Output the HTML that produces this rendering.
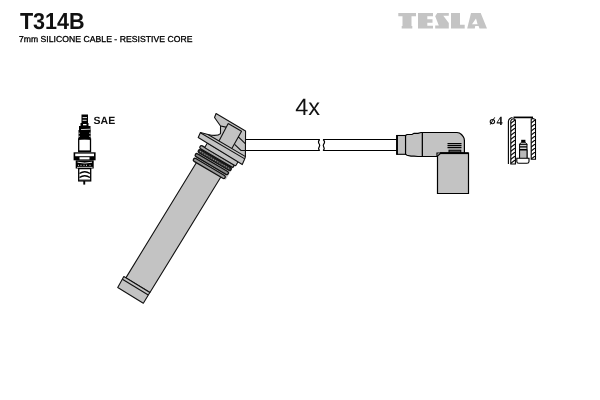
<!DOCTYPE html>
<html><head><meta charset="utf-8">
<style>
html,body{margin:0;padding:0;background:#fff;width:600px;height:400px;overflow:hidden}
svg{position:absolute;left:0;top:0;will-change:transform}
text{font-family:"Liberation Sans",sans-serif;text-rendering:geometricPrecision}
</style></head><body>
<svg width="600" height="400" viewBox="0 0 600 400">
<rect width="600" height="400" fill="#fff"/>
<!-- title -->
<text x="19.9" y="29.1" font-size="23.1" font-weight="bold" fill="#111" textLength="64.8" lengthAdjust="spacingAndGlyphs" style="text-rendering:geometricPrecision">T314B</text>
<text x="18.9" y="42" font-size="8.6" fill="#000" stroke="#000" stroke-width="0.3" textLength="173.5" lengthAdjust="spacing">7mm SILICONE CABLE - RESISTIVE CORE</text>
<!-- TESLA logo -->
<g fill="#c4c4c4">
  <path d="M398.3 13 H416 V16.3 H411.5 V26 H412.3 V28.6 H401.7 V26 H402.5 V16.3 H398.3 Z"/>
  <path d="M418 13 H433 V16.3 H427.3 V19.3 H432.5 V22.7 H427.3 V25.8 H433 V28.6 H418 Z"/>
  <path d="M437.3 13 H448.8 V15.8 H443.3 L448.8 23 V28.4 H435.2 V25.4 H438.8 L435.2 16.3 Z"/>
  <path d="M451 13 H460 V24.7 H464.7 V28.6 H451 Z"/>
  <path fill-rule="evenodd" d="M471 13 H480.7 L487 28.6 H479.5 L478.6 26 H475.2 L474.8 28.6 H467.2 Z M472 24.2 L476 18.5 L477.6 24.2 Z"/>
</g>
<!-- 4x -->
<text x="295.3" y="114.8" font-size="23.5" fill="#111">4x</text>
<!-- SAE -->
<text x="93.6" y="124.4" font-size="10.5" font-weight="bold" fill="#111">SAE</text>
<!-- o4 -->
<ellipse cx="492.4" cy="121.6" rx="2.2" ry="2.1" fill="none" stroke="#111" stroke-width="1.1"/><path d="M490.3 124.6 L494.7 117.4" stroke="#111" stroke-width="1"/><text x="496.5" y="124.9" font-size="12.5" fill="#111" style="font-family:'Liberation Serif',serif" font-weight="bold">4</text>

<!-- spark plug -->
<g>
  <rect x="81.5" y="114.5" width="6.5" height="8.8" fill="#000"/>
  <rect x="82.6" y="117.2" width="4.4" height="0.9" fill="#fff"/>
  <rect x="82.6" y="119.8" width="4" height="0.9" fill="#fff"/>
  <rect x="80.5" y="123" width="8" height="3.2" fill="#000"/>
  <rect x="83" y="124" width="3.5" height="1.3" fill="#fff"/>
  <rect x="79" y="126" width="11.5" height="4.2" fill="#000"/>
  <path d="M81 129.6 L90 129.2" stroke="#fff" stroke-width="0.8"/>
  <rect x="78.5" y="130" width="12.2" height="8.8" fill="#000"/>
  <path d="M78.5 133.2 H80 M89 133.2 H90.7 M78.5 136.3 H80 M89 136.3 H90.7" stroke="#fff" stroke-width="0.7"/>
  <rect x="78.7" y="139" width="11.8" height="12.6" fill="#fff" stroke="#000" stroke-width="1.3"/>
  <path d="M78.7 139 Q84.6 137.6 90.5 139" stroke="#000" stroke-width="1.3" fill="none"/>
  <path d="M78.7 151.2 H90.5" stroke="#000" stroke-width="1.6"/>
  <rect x="73.6" y="152.3" width="22" height="8" fill="#000"/>
  <rect x="75.2" y="153.6" width="18.8" height="2.6" fill="#fff"/>
  <rect x="79.5" y="157.2" width="10" height="2.2" fill="#fff"/>
  <rect x="75.7" y="160.3" width="18" height="8.2" fill="#000"/>
  <path d="M77.5 162.2 Q84.7 164 92 162.2" stroke="#fff" stroke-width="0.9" fill="none"/>
  <path d="M78 165.3 h1 M80.5 165.3 h1 M83.5 165.3 h1 M86 165.3 h1 M89.5 165.3 h1" stroke="#fff" stroke-width="0.9"/>
  <rect x="77" y="166.9" width="15.5" height="0.8" fill="#fff"/>
  <rect x="78.7" y="168.6" width="12" height="12.3" fill="#fff" stroke="#000" stroke-width="1.3"/>
  <path d="M79.5 173.5 Q84.7 169.8 90 173.5 M79.5 177.5 Q84.7 173.8 90 177.5" stroke="#000" stroke-width="1.5" fill="none"/><path d="M79.3 180 H90.2" stroke="#000" stroke-width="0.8"/>
  <rect x="83.3" y="181" width="1.9" height="3.6" fill="#000"/>
</g>
<!-- cable -->
<g stroke="#000" stroke-width="1.2" fill="none">
  <path d="M245.5 139.5 H319.7 M245.5 150.5 H319.7"/>
  <path d="M319.7 139.5 C318.2 141 318.3 143 319.5 144.5 C320.5 146 318.3 147.5 318.6 149 L319.7 150.5"/>
  <path d="M323.1 139.5 C324.8 141 324.8 143 323.5 144.5 C322.5 146 324.5 147.5 324.2 149 L323.1 150.5"/>
  <path d="M323.1 139.5 H397 M323.1 150.5 H397"/>
</g>

<!-- boot -->
<g stroke="#000" stroke-width="1.2" fill="#c3c3c3">
  <path d="M422.3 132.5 H457 Q459.5 132.6 461.5 134.5 L463.2 136.6 Q464.4 138.2 464.4 140.5 V153 H437 V156.5 H422.3 Z"/>
  <path d="M405.5 135.5 L407 134.5 H412 L414 133.3 H418 L421 132.5 H422.3 V156.5 L418 156.5 L414 156.2 H411 L407 155.3 L405.5 154.3 Z"/>
  <rect x="397" y="135.5" width="8.5" height="18.8" stroke-width="1.1"/>
  <path d="M397 135 V154.8" stroke-width="1.8"/>
  <path d="M440.8 153 H468.5 V193.5 H437.5 V156 Z"/>
  <path d="M440 153.2 H468.5" stroke-width="1.8"/>
  <path d="M447.5 143.6 H461.5 M447.5 145.6 H461.5 M447.5 147.6 H461.5" fill="none" stroke-width="1.1"/>
  <rect x="449" y="150.2" width="11.8" height="2.2" fill="#555" stroke-width="1"/>
</g>
<!-- cap cross-section -->
<defs>
  <pattern id="hatch" patternUnits="userSpaceOnUse" width="5" height="4">
    <path d="M-1 4.8 L6 -0.8" stroke="#000" stroke-width="1.1"/>
  </pattern>
</defs>
<g stroke="#000" stroke-width="1.1" fill="none">
  <path d="M508.4 164 V121.5 Q508.6 118.2 512.5 117.5"/>
  <path d="M510.8 164 V121 Q511 119.2 514 118.8 L515.4 120 V164 Z" fill="url(#hatch)"/>
  <path d="M531.2 159.2 V119 L533 118.5 L535.5 119.5 V159.2 Z" fill="url(#hatch)"/>
  <path d="M513.5 117.4 H533" stroke-width="1.7"/>
  <rect x="519.6" y="144.3" width="7.4" height="14.9" fill="#d2d2d2" stroke-width="1"/>
  <rect x="519.6" y="150" width="7.4" height="9.2" fill="#b9b9b9" stroke-width="1"/>
  <path d="M521.3 142.3 L519.6 144.3 H527 L525.3 142.3 Z" fill="#c8c8c8" stroke-width="0.9"/>
  <rect x="521.2" y="139.8" width="4.2" height="2.5" fill="#000" stroke="none"/>
  <path d="M519.6 146.9 H527 M519.6 149.5 H527" stroke-width="1.2"/>
  <path d="M516.8 158.2 H529 L529 161.5 Q529 163.3 527 163.3 H518.8 Q516.8 163.3 516.8 161.5 Z" fill="#fff"/>
</g>
<!-- coil -->
<g transform="translate(246.2 130.5) rotate(31.5)" stroke="#111" stroke-width="1.1" fill="#c3c3c3" stroke-linejoin="round">
  <path d="M-25.7 50 L2.7 50 L2.6 188.5 L-25.6 188.5 Z"/>
  <path d="M-28 188.5 H2.5 V201 H-27.5 Z"/>
  <path d="M-27.8 191.5 H2.5" fill="none"/>
</g>
<g transform="translate(245.5 130.5) rotate(30.5)" stroke="#111" stroke-width="1.1" fill="#c3c3c3" stroke-linejoin="round">
  <path d="M-29 35.5 H8 V52.5 H-28.5 V36 Z" stroke="none"/>
  <rect x="-31" y="35.2" width="39" height="3.3" rx="1.6" stroke-width="1.3" fill="#a8a8a8"/>
  <rect x="-30.5" y="39.4" width="38" height="3.4" rx="1.7" fill="#3a3a3a" stroke-width="1.2"/>
  <path d="M-28.5 41.1 H6" fill="none" stroke="#a8a8a8" stroke-width="0.9" stroke-dasharray="1 1.5"/>
  <rect x="-31" y="44.4" width="38" height="3.3" rx="1.6" stroke-width="1.3" fill="#8c8c8c"/>
  <rect x="-30.2" y="49.4" width="36.5" height="3.3" rx="1.6" stroke-width="1.3" fill="#9c9c9c"/>
  <rect x="-26.5" y="30" width="36" height="5.5" rx="1"/>
  <path d="M-34 0.3 L0.3 0.4 L13.3 22.8 L13.8 25.5 L14.5 31 L-37.2 30 L-37.8 24.6 L-30.3 22.5 Q-21 19.5 -20 15.3 L-23.8 8.8 L-33.3 4.5 Z"/>
  <path d="M-23.8 8.8 L-18.5 7 M-18.5 2.7 H-3 L-2.6 22.5 M-18.5 2.7 L-17.5 22.5 M-30.3 22.5 H13.3 M-37.8 24.8 H13.8 M-3.3 9 L6.5 11.5" fill="none"/>
</g>
<path d="M234.6 144.4 L241 150.5 H245.5" stroke="#111" stroke-width="1.1" fill="none"/>
</svg>
</body></html>
